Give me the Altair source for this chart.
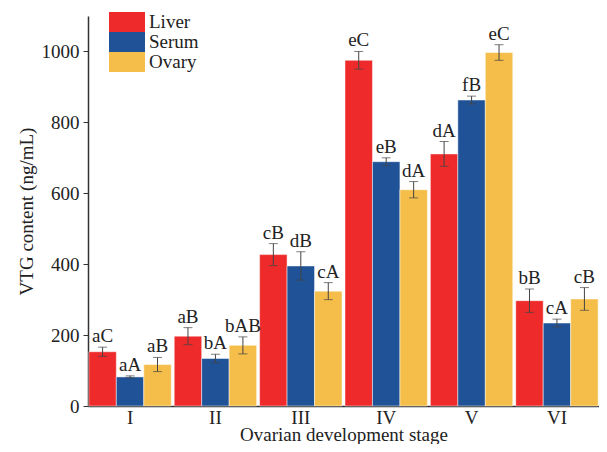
import altair as alt
import pandas as pd

stages = ["I", "II", "III", "IV", "V", "VI"]
tissues = ["Liver", "Serum", "Ovary"]
colors = ["#EE2A2A", "#1F5296", "#F5BE4B"]

liver = [153, 197, 427, 975, 711, 297]
serum = [82, 134, 395, 689, 863, 234]
ovary = [117, 171, 324, 610, 997, 302]

liver_err = [13, 24, 31, 25, 35, 33]
serum_err = [3, 12, 40, 11, 11, 11]
ovary_err = [20, 24, 24, 23, 22, 32]

liver_lab = ["aC", "aB", "cB", "eC", "dA", "bB"]
serum_lab = ["aA", "bA", "dB", "eB", "fB", "cA"]
ovary_lab = ["aB", "bAB", "cA", "dA", "eC", "cB"]

rows = []
for t, vals, errs, labs in [("Liver", liver, liver_err, liver_lab),
                            ("Serum", serum, serum_err, serum_lab),
                            ("Ovary", ovary, ovary_err, ovary_lab)]:
    for s, v, e, l in zip(stages, vals, errs, labs):
        rows.append({"stage": s, "tissue": t, "value": v,
                     "lo": v - e, "hi": v + e, "label": l})
df = pd.DataFrame(rows)

FONT = "Liberation Serif"
FS = 19

x = alt.X("stage:N", sort=stages,
          scale=alt.Scale(paddingInner=0.035, paddingOuter=0.01),
          axis=alt.Axis(title="Ovarian development stage", labelAngle=0,
                        ticks=False, labelPadding=2, titlePadding=-2))
xoff = alt.XOffset("tissue:N", sort=tissues)

base = alt.Chart(df)

bars = base.mark_bar(stroke="white", strokeWidth=0.8, strokeOpacity=0.6).encode(
    x=x,
    xOffset=xoff,
    y=alt.Y("value:Q", scale=alt.Scale(domain=[0, 1100], nice=False),
            axis=alt.Axis(title="VTG content (ng/mL)", values=[0, 200, 400, 600, 800, 1000],
                          format="d", grid=False, tickSize=5, labelPadding=4,
                          titlePadding=5)),
    color=alt.Color("tissue:N", sort=tissues,
                    scale=alt.Scale(domain=tissues, range=colors),
                    legend=alt.Legend(title=None, orient="none", legendX=29, legendY=-4,
                                      symbolType="M-1.8,-1H1.8V1H-1.8Z", symbolSize=400,
                                      symbolStrokeWidth=0, labelOffset=12,
                                      rowPadding=0, labelFontSize=FS, labelFont=FONT,
                                      labelColor="#222")),
)

rules = base.mark_rule(color="#444", strokeWidth=1).encode(
    x=x, xOffset=xoff, y="lo:Q", y2="hi:Q")
cap_lo = base.mark_tick(color="#444", size=9, thickness=1).encode(
    x=x, xOffset=xoff, y="lo:Q")
cap_hi = base.mark_tick(color="#444", size=9, thickness=1).encode(
    x=x, xOffset=xoff, y="hi:Q")
texts = base.mark_text(baseline="bottom", dy=-1, fontSize=FS, font=FONT, color="#222").encode(
    x=x, xOffset=xoff, y="hi:Q", text="label:N")

chart = alt.layer(bars, rules, cap_lo, cap_hi, texts).properties(
    width=511, height=390,
    autosize=alt.AutoSizeParams(type="none"),
    padding={"left": 80, "top": 8, "right": 0, "bottom": 38},
).configure_view(stroke=None).configure_axis(
    labelFont=FONT, titleFont=FONT, labelFontSize=FS, titleFontSize=FS,
    labelColor="#222", titleColor="#222", titleFontWeight="normal",
    domainColor="#333", tickColor="#333", domainWidth=1.5,
)

chart.save("out.html", embed_options={"renderer": "svg", "actions": False})
